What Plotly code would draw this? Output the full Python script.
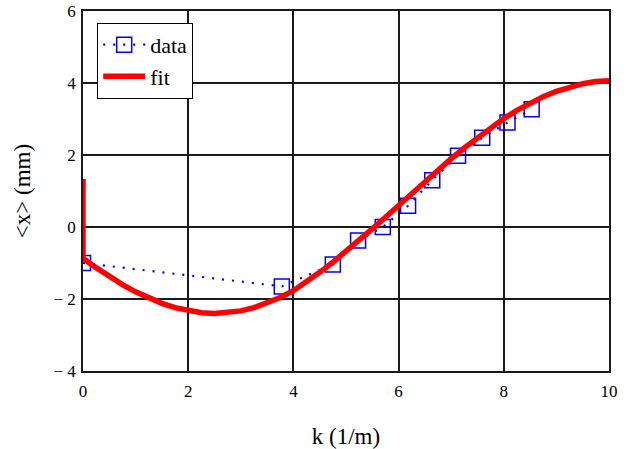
import plotly.graph_objects as go

# measured data points
k_data = [0.0, 3.78, 4.75, 5.23, 5.70, 6.18, 6.64, 7.13, 7.59, 8.07, 8.53]
x_data = [-1.0, -1.65, -1.04, -0.375, 0.0, 0.59, 1.30, 1.98, 2.48, 2.90, 3.27]

# fitted curve (the fit starts from a spurious value at k = 0)
k_fit = [0.0, 0.0, 0.25, 0.5, 0.75, 1.0, 1.25, 1.5, 1.75, 2.0, 2.25, 2.5, 2.75,
         3.0, 3.25, 3.5, 3.75, 4.0, 4.25, 4.5, 4.75, 5.0, 5.25, 5.5, 5.75,
         6.0, 6.25, 6.5, 6.75, 7.0, 7.25, 7.5, 7.75, 8.0, 8.25, 8.5, 8.75,
         9.0, 9.25, 9.5, 9.75, 10.0]
x_fit = [1.33, -0.87, -1.13, -1.37, -1.60, -1.80, -1.97, -2.12, -2.24, -2.32,
         -2.38, -2.40, -2.38, -2.33, -2.24, -2.12, -1.96, -1.77, -1.53, -1.26,
         -0.98, -0.68, -0.37, -0.05, 0.27, 0.60, 0.94, 1.27, 1.59, 1.90, 2.20,
         2.48, 2.76, 3.01, 3.24, 3.44, 3.62, 3.77, 3.89, 3.98, 4.04, 4.06]

x_ticks = [0, 2, 4, 6, 8, 10]
y_ticks = [-4, -2, 0, 2, 4, 6]
y_tick_text = ["\u2212 4", "\u2212 2", "0", "2", "4", "6"]

serif = "Liberation Serif"

fig = go.Figure()
fig.add_trace(go.Scatter(
    x=k_data, y=x_data, name="data", mode="lines+markers",
    line=dict(color="#0000ff", width=2.2, dash="2px,8px"),
    marker=dict(symbol="square-open", size=15, color="#0000ff",
                line=dict(color="#0000ff", width=1.5)),
))
fig.add_trace(go.Scatter(
    x=k_fit, y=x_fit, name="fit", mode="lines",
    line=dict(color="#ff0000", width=5.5),
))

axis_common = dict(
    showgrid=True, gridcolor="#1a1a1a", gridwidth=1.5,
    showline=True, linecolor="#1a1a1a", linewidth=1.5, mirror=True,
    zeroline=False, ticks="", automargin=False,
    tickfont=dict(family=serif, size=17, color="black"),
    title_font=dict(family=serif, size=23, color="black"),
)

fig.update_xaxes(range=[0, 10], tickvals=x_ticks, title_text="k (1/m)",
                 ticklabelstandoff=4, title_standoff=28, **axis_common)
fig.update_yaxes(range=[-4, 6], tickvals=y_ticks, ticktext=y_tick_text,
                 title_text="&lt;x&gt; (mm)", ticklabelstandoff=2,
                 title_standoff=16, **axis_common)

fig.update_layout(
    width=634, height=449,
    margin=dict(l=83, r=25, t=11, b=78),
    paper_bgcolor="white", plot_bgcolor="white",
    showlegend=True,
    legend=dict(x=0.027, y=0.967, xanchor="left", yanchor="top",
                bgcolor="white", bordercolor="black", borderwidth=1,
                font=dict(family=serif, size=22, color="black"),
                itemwidth=42, tracegroupgap=0),
)

fig.write_html("out.html")
